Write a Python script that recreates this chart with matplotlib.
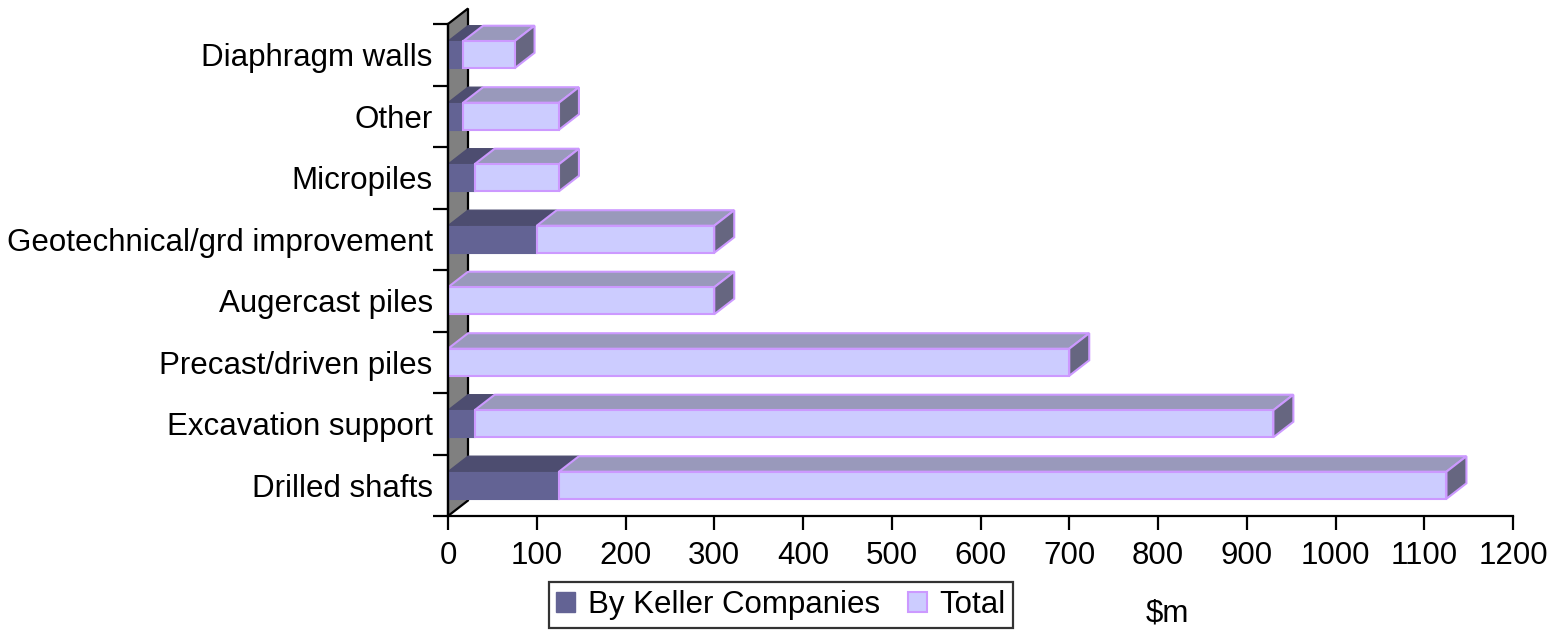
import matplotlib
matplotlib.use("Agg")
import matplotlib.pyplot as plt
from matplotlib.patches import Polygon, Patch

categories = ["Drilled shafts", "Excavation support", "Precast/driven piles",
              "Augercast piles", "Geotechnical/grd improvement", "Micropiles",
              "Other", "Diaphragm walls"]
keller = [125, 30, 0, 0, 100, 30, 17, 17]
total = [1125, 930, 700, 300, 300, 125, 125, 75]
x_ticks = list(range(0, 1201, 100))
series_names = ["By Keller Companies", "Total"]

plt.rcParams['font.family'] = ['Liberation Sans', 'DejaVu Sans']
FS = 22.5

W, H = 1551, 631
fig = plt.figure(figsize=(W / 100, H / 100), dpi=100)
ax_l, ax_r, ax_t, ax_b = 448, 1513, 24, 516
ax = fig.add_axes([ax_l / W, 1 - ax_b / H, (ax_r - ax_l) / W, (ax_b - ax_t) / H])
ax.set_xlim(0, 1200)
n = len(categories)
ax.set_ylim(-0.5, n - 0.5)

# depth of the 3D effect in pixels -> data units
depth_dx_px, depth_dy_px = 20, 15.5
dx = depth_dx_px * 1200 / (ax_r - ax_l)
dy = depth_dy_px * n / (ax_b - ax_t)

# back wall
wall = Polygon([(0, -0.5), (0, n - 0.5), (dx, n - 0.5 + dy), (dx, -0.5 + dy)],
               closed=True, facecolor="#808080", edgecolor="black", lw=1.6,
               clip_on=False, zorder=1)
ax.add_patch(wall)

k_front, k_top = "#636394", "#4d4d70"
t_front, t_top, t_side, t_edge = "#ccccff", "#9999bb", "#666680", "#cc99ff"
bh = 0.44
ys = list(range(n))

for y, k, t in zip(ys, keller, total):
    y0 = y - bh / 2
    y1 = y + bh / 2
    if k > 0:
        ax.add_patch(Polygon([(0, y1), (k, y1), (k + dx, y1 + dy), (dx, y1 + dy)],
                             closed=True, facecolor=k_top, edgecolor=k_top, lw=1,
                             zorder=2, clip_on=False))
    ax.add_patch(Polygon([(k, y1), (t, y1), (t + dx, y1 + dy), (k + dx, y1 + dy)],
                         closed=True, facecolor=t_top, edgecolor=t_edge, lw=1.5,
                         zorder=2, clip_on=False))
    ax.add_patch(Polygon([(t, y0), (t, y1), (t + dx, y1 + dy), (t + dx, y0 + dy)],
                         closed=True, facecolor=t_side, edgecolor=t_edge, lw=1.5,
                         zorder=2, clip_on=False))

ax.barh(ys, keller, height=bh, color=k_front, edgecolor=k_front, lw=0.8, zorder=3)
ax.barh(ys, [t - k for k, t in zip(keller, total)], left=keller, height=bh,
        color=t_front, edgecolor=t_edge, lw=1.5, zorder=3)

for s in ["top", "right"]:
    ax.spines[s].set_visible(False)
ax.spines["left"].set_linewidth(1.6)
ax.spines["bottom"].set_linewidth(1.6)
ax.spines["left"].set_zorder(5)
ax.set_xticks(x_ticks)
ax.set_xticklabels([str(v) for v in x_ticks], fontsize=FS)
ax.tick_params(axis="x", length=10, width=1.6, pad=8)
ax.set_yticks(ys)
ax.set_yticklabels(categories, fontsize=FS)
ax.tick_params(axis="y", which="major", length=0, pad=11)
ax.set_yticks([i - 0.5 for i in range(n + 1)], minor=True)
ax.tick_params(axis="y", which="minor", length=11, width=1.6)

handles = [Patch(facecolor=k_front, edgecolor=k_front),
           Patch(facecolor=t_front, edgecolor=t_edge, lw=1.5)]
leg = fig.legend(handles, series_names, loc="center", ncol=2,
                 bbox_to_anchor=(781 / W, 1 - 605 / H), fontsize=FS,
                 frameon=True, fancybox=False, handlelength=0.6, handleheight=0.6,
                 handletextpad=0.4, columnspacing=0.9, borderpad=0.25,
                 borderaxespad=0)
leg.get_frame().set_edgecolor("black")
leg.get_frame().set_linewidth(1.6)

fig.text(1167 / W, 1 - 613 / H, "$m", fontsize=FS, ha="center", va="center")

fig.savefig("out.png", dpi=100)
